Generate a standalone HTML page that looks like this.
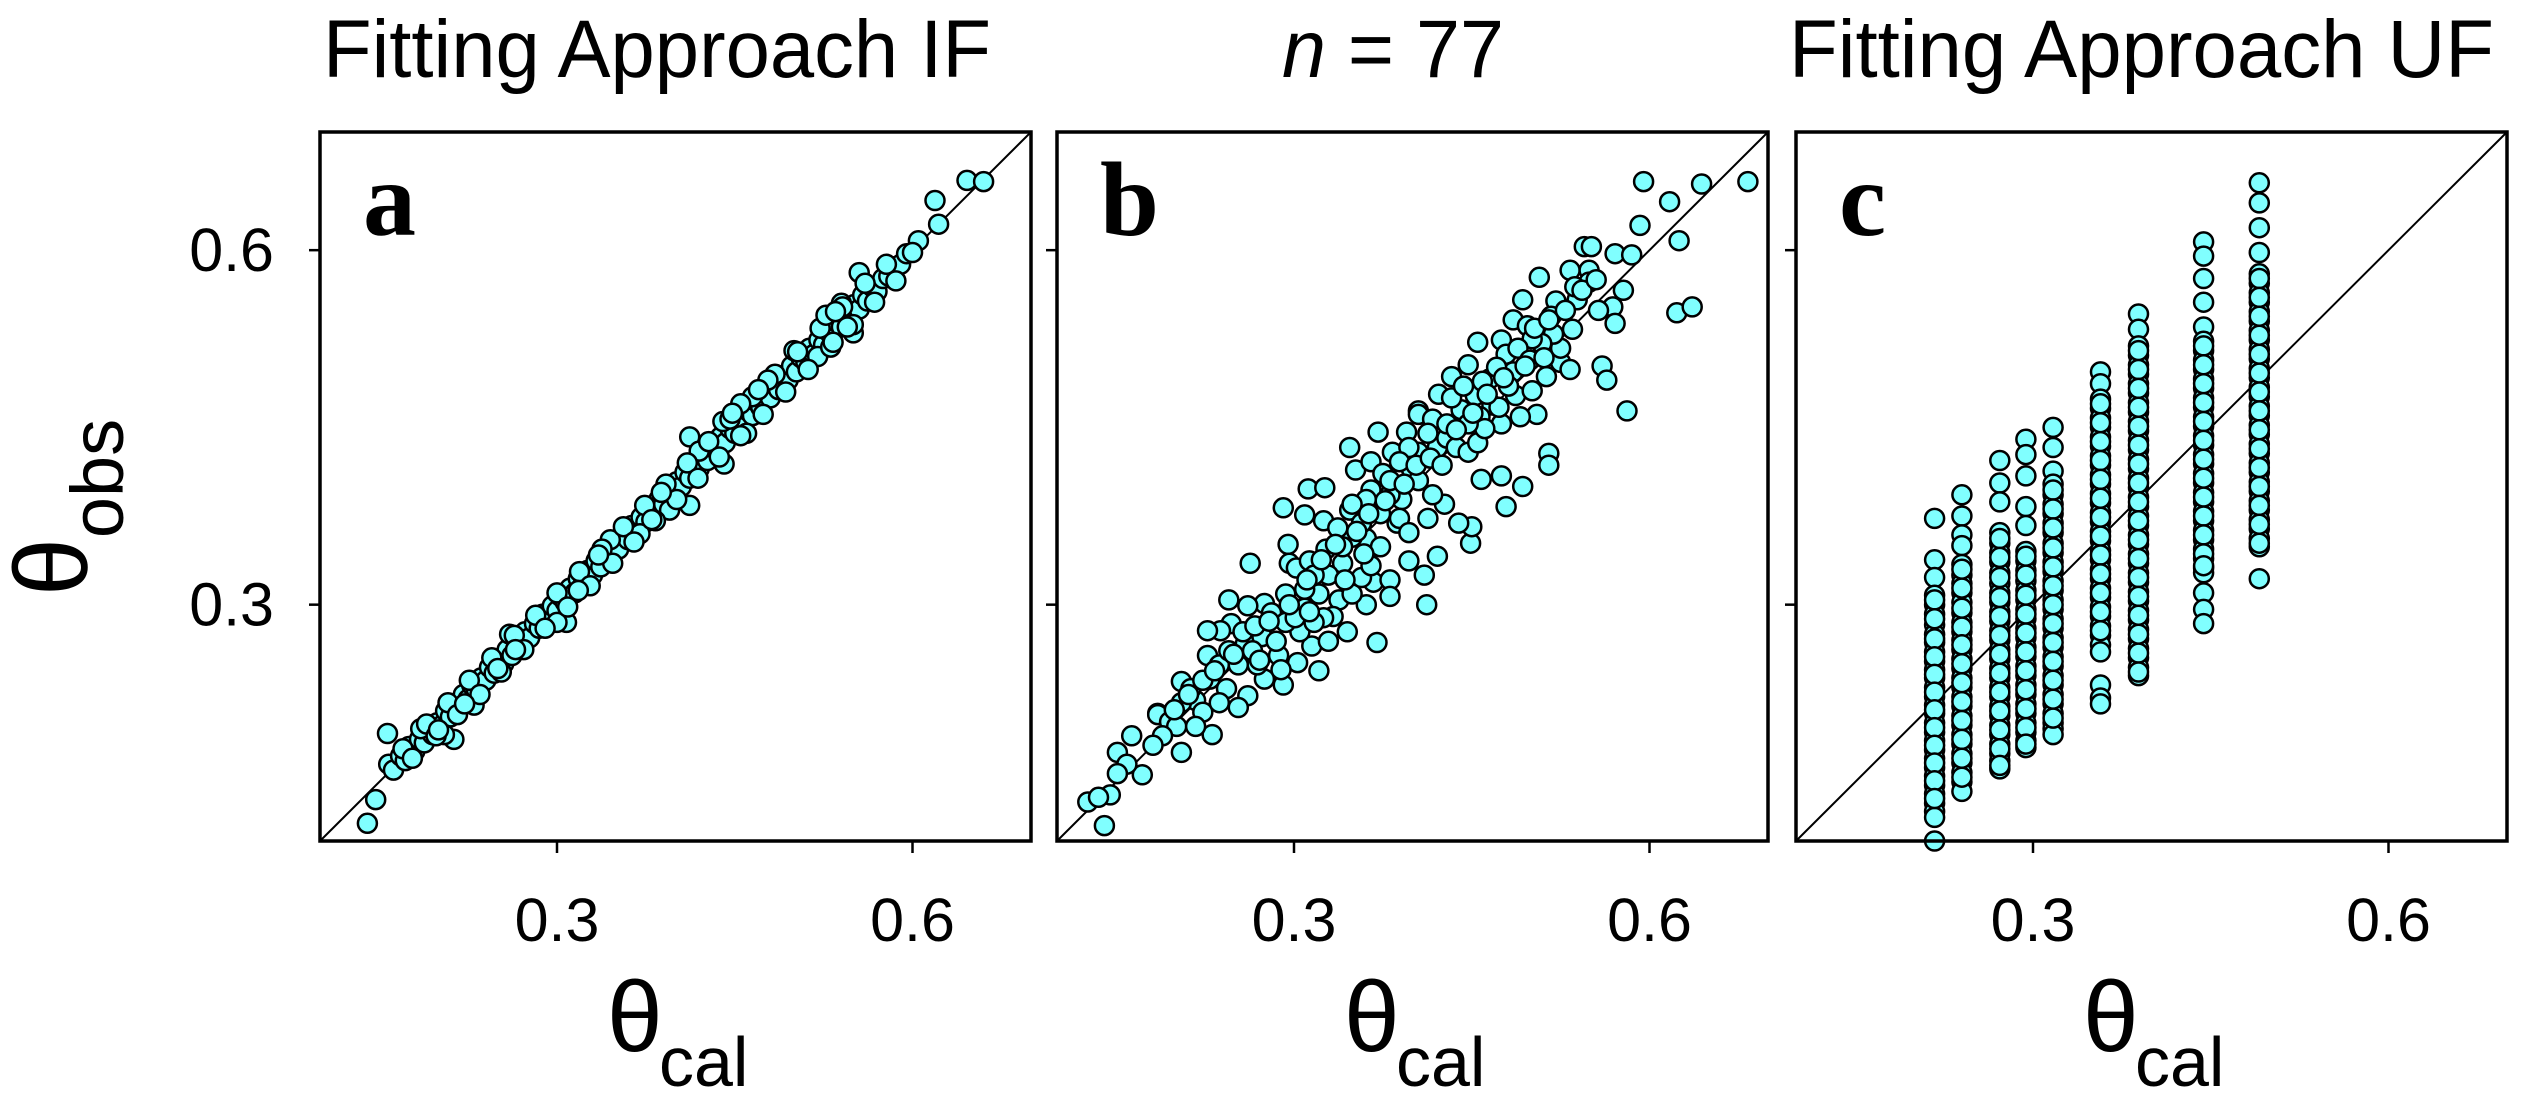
<!DOCTYPE html>
<html><head><meta charset="utf-8"><style>
html,body{margin:0;padding:0;background:#fff;}
body{position:relative;width:2523px;height:1109px;overflow:hidden;}
svg{display:block;}
text{font-family:"Liberation Sans",Arial,sans-serif;fill:#000;}
.let{font-family:"Liberation Serif","Times New Roman",serif;font-weight:bold;}
#ylab{position:absolute;left:0;top:0;transform-origin:0 0;transform:translate(0px,596px) rotate(-90deg);font-family:"Liberation Sans",Arial,sans-serif;white-space:nowrap;line-height:104px;height:104px;color:#000;}
#ylab .th{font-size:104px;}
#ylab .sb{font-size:74px;position:relative;top:36px;}
</style></head><body>
<svg id="chart" width="2523" height="1109" viewBox="0 0 2523 1109" xmlns="http://www.w3.org/2000/svg">
<text x="323" y="77" font-size="82" textLength="668" lengthAdjust="spacingAndGlyphs">Fitting Approach IF</text>
<text x="1282" y="77" font-size="82" textLength="222" lengthAdjust="spacingAndGlyphs"><tspan font-style="italic">n</tspan> = 77</text>
<text x="1789" y="77" font-size="82" textLength="705" lengthAdjust="spacingAndGlyphs">Fitting Approach UF</text>
<g id="panels"></g>
</svg>
<div id="ylab"><span class="th">θ</span><span class="sb">obs</span></div>
<script>
const xTicks=[0.3,0.6];
const yTicks=[0.6,0.3];
const tickLabels=["0.3","0.6"];
const panelLetters=["a","b","c"];
const dataA=[[.140,.115],[.157,.191],[.147,.135],[.412,.442],[.412,.384],[.441,.419],[.308,.285],[.213,.186],[.619,.642],[.622,.622],[.646,.659],[.660,.658],[.555,.581],[.605,.608],
[.158,.165],[.162,.160],[.168,.172],[.172,.168],[.175,.180],[.180,.176],[.184,.186],[.188,.183],[.192,.195],[.195,.190],[.199,.200],[.203,.198],[.206,.210],[.210,.205],[.214,.216],[.218,.213],[.221,.224],[.225,.220],[.228,.232],[.232,.228],[.236,.238],[.240,.236],[.243,.247],[.247,.242],[.251,.253],[.255,.250],[.258,.262],[.262,.257],[.266,.270],[.270,.265],[.273,.277],[.277,.272],[.281,.284],[.285,.280],[.288,.292],[.292,.287],[.296,.299],[.300,.295],[.303,.307],[.307,.302],[.311,.314],[.315,.310],[.318,.322],[.322,.317],[.326,.329],[.330,.325],[.333,.337],[.337,.332],[.341,.344],[.345,.340],[.348,.352],[.352,.347],[.356,.359],[.360,.355],[.363,.367],[.367,.362],[.371,.374],[.375,.370],[.378,.382],[.382,.377],[.386,.389],[.390,.385],[.393,.397],[.397,.392],[.401,.404],[.405,.400],[.408,.412],[.412,.407],[.416,.419],[.420,.415],[.423,.427],[.427,.422],[.431,.434],[.435,.430],[.438,.442],[.442,.437],[.446,.449],[.450,.445],[.453,.457],[.457,.452],[.461,.464],[.465,.460],[.468,.472],[.472,.467],[.476,.479],[.480,.475],[.483,.487],[.487,.482],[.491,.494],[.495,.490],[.498,.502],[.502,.497],[.506,.509],[.510,.505],[.513,.517],[.517,.512],[.521,.524],[.525,.520],[.528,.532],[.532,.527],[.536,.539],[.540,.535],[.543,.547],[.547,.542],[.551,.554],[.555,.550],[.558,.562],[.562,.557],[.566,.569],[.570,.565],[.575,.576],[.580,.578],[.585,.586],[.590,.588],[.595,.597],[.600,.598],
[.230,.215],[.260,.275],[.300,.285],[.345,.355],[.370,.360],[.395,.380],[.420,.430],[.440,.455],[.460,.445],[.500,.515],[.520,.510],[.540,.555],[.550,.530],[.205,.190],[.185,.195]];
const dataA2=[[.170,.178],[.178,.170],[.190,.199],[.198,.189],[.208,.217],[.216,.207],[.226,.236],[.235,.224],[.245,.255],[.253,.243],[.264,.274],[.272,.262],[.282,.291],[.290,.280],[.300,.310],[.309,.298],[.319,.328],[.328,.316],[.338,.347],[.347,.335],[.356,.366],[.365,.353],[.374,.384],[.383,.371],[.392,.402],[.401,.389],[.410,.420],[.419,.407],[.428,.438],[.437,.425],[.446,.457],[.455,.443],[.465,.476],[.474,.461],[.484,.495],[.493,.480],[.503,.514],[.512,.499],[.522,.534],[.531,.518],[.541,.552],[.550,.537],[.560,.572],[.568,.556],[.578,.588],[.586,.574],[.527,.545],[.535,.548],[.545,.535],[.533,.522],[.478,.490],[.470,.482],[.455,.470],[.448,.462],[.388,.395],[.380,.372],[.335,.342],[.318,.312],[.265,.262],[.250,.246],[.222,.216],[.200,.194]];
const dataB=[[.595,.658],[.644,.656],[.683,.658],[.617,.641],[.592,.621],[.625,.608],[.623,.547],[.636,.552],[.581,.464],[.560,.502],[.564,.490],[.515,.428],[.515,.418],[.479,.383],[.475,.409],[.493,.400],[.458,.406],[.370,.268],[.412,.300],[.421,.341],[.410,.325],[.449,.352],[.450,.366],[.439,.369],[.263,.335],[.291,.382],[.312,.398],[.326,.399],[.245,.304],[.347,.433],[.371,.446],[.352,.414],[.140,.113],[.126,.133],[.321,.244],[.291,.232],[.231,.190],[.205,.175],[.172,.156],[.151,.175],[.163,.189],[.185,.208],[.507,.577],[.455,.522],[.571,.597],[.585,.596],[.578,.566],[.545,.603],[.551,.603],[.533,.583],[.549,.583],[.493,.558],[.521,.557],[.539,.558],[.569,.552],[.571,.538],[.485,.541],[.497,.536],[.517,.544],[.475,.524],[.479,.512],[.447,.503],[.433,.493],[.422,.478],[.405,.464],[.395,.446],[.383,.429],[.365,.421],[.347,.380],[.325,.371],[.309,.376],[.295,.351],[.296,.335],[.302,.331],[.327,.347],[.341,.335],[.361,.356],[.367,.319],[.381,.321],[.381,.307],[.361,.300],[.345,.277],[.338,.304],[.333,.290],[.315,.265],[.303,.251],[.275,.301],[.261,.299],[.247,.284],[.238,.278],[.227,.278],[.227,.257],[.237,.249],[.205,.235],[.217,.219],[.205,.217],[.185,.207],[.195,.201],[.159,.165],[.145,.139],[.135,.137],[.151,.157],[.259,.267],[.253,.249],[.261,.223],[.275,.237],[.287,.257],[.285,.289],[.305,.277],[.321,.309],[.325,.289],[.349,.309],[.357,.323],[.373,.349],[.387,.369],[.391,.389],[.381,.393],[.365,.397],[.375,.411],[.399,.415],[.405,.429],[.421,.433],[.429,.441],[.437,.433],[.447,.429],[.455,.437],[.441,.465],[.453,.477],[.465,.491],[.485,.497],[.487,.477],[.505,.461],[.491,.459],[.475,.453],[.467,.469],[.457,.459],[.501,.481],[.513,.493],[.525,.505],[.533,.499],[.525,.517],[.519,.529],[.509,.521],[.501,.525],[.535,.533],[.557,.549],[.549,.573],[.537,.569],[.427,.385],[.417,.393],[.405,.405],[.389,.373],[.413,.373],[.397,.361],[.397,.337],[.365,.333],[.349,.357],[.337,.365],[.313,.337],[.309,.313],[.293,.309],[.281,.293],[.293,.285],[.273,.273],[.257,.277],[.245,.261],[.269,.249],[.289,.245],[.243,.229],[.229,.237],[.223,.209],[.213,.229],[.201,.197],[.189,.189],[.181,.181],[.405,.461],[.417,.457],[.433,.475],[.443,.485],[.459,.489],[.471,.501],[.489,.517],[.499,.507],[.511,.509],[.481,.485],[.473,.467],[.461,.449],[.447,.453],[.429,.453],[.413,.445],[.397,.433],[.389,.421],[.381,.405],[.361,.389],[.349,.385],[.373,.377],[.357,.369],[.341,.349],[.329,.325],[.317,.325],[.309,.297],[.301,.289],[.317,.285],[.329,.269],[.285,.269],[.265,.261],[.237,.217],[.253,.213],[.217,.197],
[.199,.211],[.211,.224],[.223,.236],[.233,.244],[.249,.258],[.267,.282],[.279,.286],[.296,.300],[.311,.321],[.323,.338],[.335,.351],[.353,.362],[.363,.377],[.377,.388],[.393,.402],[.403,.418],[.415,.424],[.425,.418],[.437,.448],[.451,.462],[.463,.478],[.477,.492],[.495,.502],[.503,.534],[.515,.541],[.529,.549],[.543,.566],[.555,.575],[.313,.294],[.271,.253],[.343,.321],[.359,.343]];
const colX=[.217,.240,.272,.294,.317,.357,.389,.444,.491];
const col1=[.373,.338,.323,.308,.300,.292,.283,.275,.268,.260,.252,.245,.238,.230,.222,.215,.208,.200,.192,.185,.177,.170,.162,.155,.147,.140,.132,.125,.120,.100,.304,.288,.271,.256,.241,.226,.211,.196,.181,.166,.151,.136];
const col2=[.393,.375,.359,.350,.334,.325,.318,.310,.302,.293,.285,.277,.270,.262,.254,.246,.238,.230,.222,.214,.206,.198,.190,.182,.174,.166,.158,.150,.142,.330,.314,.297,.281,.266,.250,.234,.218,.202,.186,.170,.154];
const col3=[.422,.403,.387,.361,.352,.344,.336,.327,.318,.310,.302,.294,.286,.278,.270,.262,.254,.246,.238,.230,.222,.214,.206,.198,.190,.182,.174,.168,.161,.356,.340,.323,.306,.290,.274,.258,.242,.226,.210,.194,.178,.164];
const col4=[.440,.427,.409,.383,.367,.345,.337,.329,.320,.312,.304,.296,.288,.280,.272,.264,.256,.248,.240,.232,.224,.216,.208,.200,.192,.185,.179,.341,.325,.308,.292,.276,.260,.244,.228,.212,.196,.182];
const col5=[.450,.433,.413,.402,.393,.385,.377,.369,.361,.352,.344,.336,.328,.320,.312,.304,.296,.288,.280,.272,.264,.256,.248,.240,.232,.224,.216,.208,.200,.195,.190,.397,.381,.365,.348,.332,.316,.300,.284,.268,.252,.236,.220,.204];
const col6=[.497,.487,.474,.466,.458,.450,.442,.434,.426,.418,.410,.402,.394,.386,.378,.370,.362,.354,.346,.338,.330,.322,.314,.306,.298,.290,.282,.274,.266,.260,.232,.221,.216,.470,.454,.438,.422,.406,.390,.374,.358,.342,.326,.310,.294,.278];
const col7=[.546,.533,.519,.511,.503,.495,.487,.479,.471,.463,.455,.447,.439,.431,.423,.415,.407,.399,.391,.383,.375,.367,.359,.351,.343,.335,.327,.319,.311,.303,.295,.287,.279,.271,.263,.255,.247,.240,.515,.499,.483,.467,.451,.435,.419,.403,.387,.371,.355,.339,.323,.307,.291,.275,.259,.243];
const col8=[.607,.595,.576,.556,.535,.523,.515,.507,.499,.491,.483,.475,.467,.459,.451,.443,.435,.427,.419,.411,.403,.395,.387,.379,.371,.363,.355,.347,.339,.331,.327,.310,.296,.284,.519,.503,.487,.471,.455,.439,.423,.407,.391,.375,.359,.343,.333];
const col9=[.657,.640,.619,.598,.580,.572,.564,.556,.548,.540,.532,.524,.516,.508,.500,.492,.484,.476,.468,.460,.452,.444,.436,.428,.420,.412,.404,.396,.388,.380,.372,.364,.356,.349,.322,.576,.560,.544,.528,.512,.496,.480,.464,.448,.432,.416,.400,.384,.368,.352];

const NS="http://www.w3.org/2000/svg";
const panelsG=document.getElementById('panels');
const panelLeft=[320,1057,1796], PT=132, PW=711, PH=709, DMIN=0.1, DMAX=0.7;
function mk(tag,attrs,parent){const e=document.createElementNS(NS,tag);for(const k in attrs)e.setAttribute(k,attrs[k]);parent.appendChild(e);return e;}
function xs(p,v){return panelLeft[p]+(v-DMIN)/(DMAX-DMIN)*PW;}
function ys(v){return PT+PH-(v-DMIN)/(DMAX-DMIN)*PH;}
const cData=[];
[col1,col2,col3,col4,col5,col6,col7,col8,col9].forEach((c,i)=>c.forEach(v=>cData.push([colX[i],v])));
const allData=[dataA.concat(dataA2),dataB,cData];
const names=["a","b","c"];
for(let p=0;p<3;p++){
  const g=mk('g',{},panelsG);
  
  
  const L=panelLeft[p];
  const diag=mk('line',{x1:xs(p,DMIN),y1:ys(DMIN),x2:xs(p,DMAX),y2:ys(DMAX),stroke:'#000','stroke-width':2},g);
  
  
  const pts=mk('g',{},g);
  
  
  allData[p].forEach(d=>{
    const c=mk('circle',{cx:xs(p,d[0]).toFixed(1),cy:ys(d[1]).toFixed(1),r:9.5,fill:'#80ffff',stroke:'#000','stroke-width':2.5},pts);
    
    
  });
  const fr=mk('rect',{x:L,y:PT,width:PW,height:PH,fill:'none',stroke:'#000','stroke-width':3.5},g);
  
  
  const lt=mk('text',{x:L+43,y:235,'font-size':106,class:'let'},g);
  lt.textContent=panelLetters[p];
  
  
  xTicks.forEach((t,i)=>{
    const x=xs(p,t);
    const tk=mk('line',{x1:x,y1:PT+PH,x2:x,y2:PT+PH+12,stroke:'#000','stroke-width':2.5},g);
    
    
    const tl=mk('text',{x:x,y:941,'font-size':61,'text-anchor':'middle'},g);
    tl.textContent=tickLabels[i];
    
    
  });
  yTicks.forEach((t)=>{
    const y=ys(t);
    const tk=mk('line',{x1:L-11,y1:y,x2:L,y2:y,stroke:'#000','stroke-width':2.5},g);
    
    
    if(p===0){
      const tl=mk('text',{x:274,y:y+21,'font-size':61,'text-anchor':'end'},g);
      tl.textContent=t.toFixed(1);
      
      
    }
  });
  const xt=mk('text',{x:L+287,y:1051,'font-size':100},g);
  
  
  xt.textContent='θ';
  const sub=mk('text',{x:L+339,y:1086,'font-size':70},g);
  sub.textContent='cal';
  
  
}
</script>
</body></html>
